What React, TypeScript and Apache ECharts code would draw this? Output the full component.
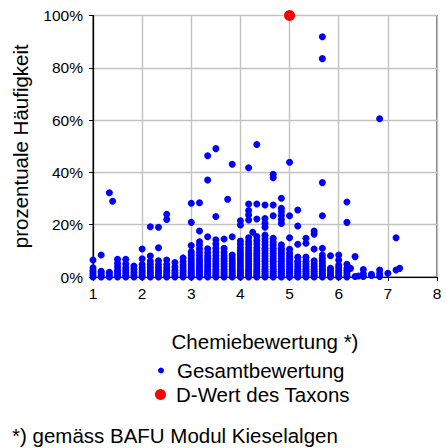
import React, { useEffect, useRef } from "react";
import * as echarts from "echarts";

// x values (Chemiebewertung) of the point columns
const columnX = [
  1.0, 1.167, 1.333, 1.5, 1.667, 1.833, 2.0, 2.167, 2.333, 2.5, 2.667, 2.833,
  3.0, 3.167, 3.333, 3.5, 3.667, 3.833, 4.0, 4.167, 4.333, 4.5, 4.667, 4.833,
  5.0, 5.167, 5.333, 5.5, 5.667, 5.833, 6.0, 6.167, 6.333, 6.5, 6.667, 6.833,
  7.0, 7.167,
];

// prozentuale Häufigkeit (%) of the points in each column
const columnValues = [
  [0, 0.8, 1.6, 2.5, 3.5, 6.5],
  [0, 0.7, 1.5, 2.2, 8.4],
  [0, 0.8, 1.8, 32.2],
  [0, 0.8, 1.6, 2.6, 3.8, 5.2, 6.8],
  [0, 0.7, 1.5, 2.5, 3.5, 5, 6.8],
  [0, 0.8, 1.8, 3, 4.2],
  [0, 0.8, 1.6, 2.5, 3.5, 4.8, 7, 10.7],
  [0, 0.8, 1.6, 2.6, 3.6, 4.8, 6, 8, 19.2],
  [0, 0.8, 1.6, 2.6, 3.6, 4.8, 6.2, 11.2, 19],
  [0, 0.8, 1.6, 2.5, 3.5, 4.8, 6.5, 22, 24],
  [0, 0.8, 1.6, 2.6, 3.8, 5.5],
  [0, 0.8, 1.6, 2.5, 3.5, 4.6, 5.8, 7.3],
  [0, 0.7, 1.4, 2.2, 3, 4, 5, 6, 7.2, 8.4, 9.6, 12, 20.9, 28.2],
  [0, 0.7, 1.4, 2.2, 3, 4, 5, 6, 7, 8.2, 9.5, 10.8, 12.2, 13.5, 17.6, 28.4],
  [0, 0.7, 1.4, 2.2, 3, 4, 5, 6, 7, 8, 9.4, 10.8, 15.4, 37.1, 46.4],
  [0, 0.7, 1.4, 2.2, 3, 4, 5, 6, 7, 8.2, 9.6, 11, 12.6, 14.2, 23.1, 49.1],
  [0, 0.7, 1.4, 2.2, 3, 4, 5, 6, 7, 8, 9.5, 11, 14.5],
  [0, 0.7, 1.4, 2.2, 3, 4, 5, 6, 7.2, 8.4, 15.4, 43.1],
  [0, 0.7, 1.4, 2.2, 3, 4, 5, 6, 7, 8, 9, 10, 11.2, 12.5, 13.8, 19.9, 21.5],
  [0, 0.7, 1.4, 2.2, 3, 4, 5, 6, 7, 8, 9, 10, 11.2, 12.4, 13.6, 15, 21.8, 23.7, 25.4, 27.9, 41.8],
  [0, 0.7, 1.4, 2.2, 3, 4, 5, 6, 7, 8, 9, 10, 11.2, 12.6, 14, 15.5, 22.2, 27.9, 50.7],
  [0, 0.7, 1.4, 2.2, 3, 4, 5, 6, 7, 8, 9, 10, 11, 12.2, 13.4, 14.6, 16, 19, 20.5, 22.4, 27.5],
  [0, 0.7, 1.4, 2.2, 3, 4, 5, 6, 7, 8, 9, 10, 11, 12.2, 13.4, 14.8, 23.4, 27.5, 38, 39.3],
  [0, 0.7, 1.4, 2.2, 3, 4, 5, 6, 7, 8, 9, 10, 11, 12.3, 20.5, 22, 23.5, 25, 26.3, 30.1],
  [0, 0.7, 1.4, 2.2, 3, 4, 5, 6, 7, 8, 9.2, 10.6, 15, 23.4, 43.9],
  [0, 0.7, 1.4, 2.2, 3, 4, 5, 6, 7.6, 12.5, 19.5, 25.6],
  [0, 0.7, 1.4, 2.2, 3, 4, 5, 6, 7.6, 12.9, 14.8],
  [0, 0.7, 1.4, 2.2, 3, 4, 5, 6.2, 10.7, 16.4, 17.6],
  [0, 0.7, 1.4, 2.2, 3, 4, 5, 6, 7.2, 8.4, 11, 23.4, 36.1, 83.5, 91.9],
  [0, 0.8, 1.6, 2.5, 3.3, 8.1],
  [0, 0.8, 1.6, 2.5, 3.5, 4.6, 6.5, 8.4],
  [0, 0.8, 1.6, 2.5, 3.3, 4.9, 20.9, 28.7],
  [0.2, 7.8],
  [0.2, 1.2, 2.9],
  [0.6, 1.0],
  [0.2, 1.2, 2.7, 60.5],
  [1.4],
  [2.7, 15],
];

// points lying between the columns
const extraX = [1.4, 3.74, 4.25, 6.24, 6.4, 7.24];
const extraY = [29, 29.7, 17.1, 3.3, 0.4, 3.3];

// D-Wert des Taxons
const taxonX = [5.0];
const taxonY = [100];

const xTicks = ["1", "2", "3", "4", "5", "6", "7", "8"];
const yTicks = ["0%", "20%", "40%", "60%", "80%", "100%"];

const FONT = "'Liberation Sans', Arial, sans-serif";

export default function App() {
  const ref = useRef<HTMLDivElement>(null);

  useEffect(() => {
    if (!ref.current) return;
    const chart = echarts.init(ref.current, undefined, { renderer: "svg" });

    const gesamt: number[][] = [];
    columnX.forEach((x, i) => {
      columnValues[i].forEach((y) => gesamt.push([x, y]));
    });
    extraX.forEach((x, i) => gesamt.push([x, extraY[i]]));
    const taxon = taxonX.map((x, i) => [x, taxonY[i]]);

    chart.setOption({
      animation: false,
      backgroundColor: "#ffffff",
      textStyle: { fontFamily: FONT },
      grid: {
        left: 93,
        right: 9,
        top: 15.5,
        bottom: 171,
        show: true,
        borderColor: "#222",
        borderWidth: 1.2,
      },
      xAxis: {
        type: "value",
        min: 1,
        max: 8,
        interval: 1,
        name: "Chemiebewertung *)",
        nameLocation: "middle",
        nameGap: 54,
        nameTextStyle: { fontSize: 20.5, color: "#000", fontFamily: FONT },
        axisLine: { show: true, lineStyle: { color: "#000", width: 1.2 } },
        axisTick: { show: true, length: 4, lineStyle: { color: "#000" } },
        axisLabel: {
          fontSize: 15.5,
          color: "#000",
          margin: 8,
          fontFamily: FONT,
          formatter: (v: number) => xTicks[Math.round(v) - 1] ?? "",
        },
        splitLine: { show: true, lineStyle: { color: "#c2c2c2", width: 1.4 } },
      },
      yAxis: {
        type: "value",
        min: 0,
        max: 100,
        interval: 20,
        name: "prozentuale Häufigkeit",
        nameLocation: "middle",
        nameGap: 62,
        nameRotate: 90,
        nameTextStyle: { fontSize: 20.5, color: "#000", fontFamily: FONT },
        axisLine: { show: true, lineStyle: { color: "#000", width: 1.2 } },
        axisTick: { show: true, length: 4, lineStyle: { color: "#000" } },
        axisLabel: {
          fontSize: 15.5,
          color: "#000",
          margin: 10,
          fontFamily: FONT,
          formatter: (v: number) => yTicks[Math.round(v / 20)] ?? "",
        },
        splitLine: { show: true, lineStyle: { color: "#c2c2c2", width: 1.4 } },
      },
      legend: [
        {
          data: ["Gesamtbewertung"],
          orient: "vertical",
          left: 153,
          top: 355,
          itemWidth: 6,
          itemHeight: 6,
          itemGap: 0,
          icon: "circle",
          textStyle: { fontSize: 20.5, color: "#000", fontFamily: FONT, padding: [0, 0, 0, 8] },
        },
        {
          data: ["D-Wert des Taxons"],
          orient: "vertical",
          left: 150,
          top: 379,
          itemWidth: 11,
          itemHeight: 11,
          itemGap: 0,
          icon: "circle",
          textStyle: { fontSize: 20.5, color: "#000", fontFamily: FONT, padding: [0, 0, 0, 5] },
        },
      ],
      graphic: [
        {
          type: "text",
          left: 12,
          top: 425,
          style: {
            text: "*) gemäss BAFU Modul Kieselalgen",
            fontSize: 20.5,
            fontFamily: FONT,
            fill: "#000",
          },
        },
      ],
      series: [
        {
          name: "Gesamtbewertung",
          type: "scatter",
          data: gesamt,
          symbol: "circle",
          symbolSize: 7,
          itemStyle: { color: "#0000ff", opacity: 1 },
          clip: false,
          z: 3,
        },
        {
          name: "D-Wert des Taxons",
          type: "scatter",
          data: taxon,
          symbol: "circle",
          symbolSize: 11,
          itemStyle: { color: "#ff0000", opacity: 1 },
          clip: false,
          z: 4,
        },
      ],
    });

    return () => chart.dispose();
  }, []);

  return (
    <div
      ref={ref}
      style={{ position: "fixed", left: 0, top: 0, width: 446, height: 448 }}
    />
  );
}
